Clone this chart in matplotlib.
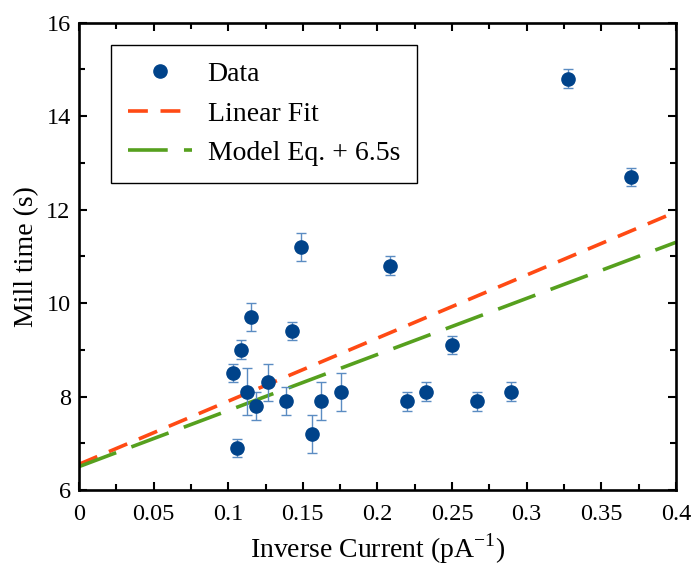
import matplotlib
matplotlib.use("Agg")
import matplotlib.pyplot as plt
import numpy as np
from matplotlib.ticker import MultipleLocator
from matplotlib.lines import Line2D

plt.rcParams['font.family'] = ['Liberation Serif', 'DejaVu Serif']
plt.rcParams['mathtext.fontset'] = 'custom'
plt.rcParams['mathtext.rm'] = 'Liberation Serif'

inv_current = [0.1032, 0.1085, 0.106, 0.1126, 0.115, 0.1186, 0.1266, 0.139, 0.1427,
               0.1487, 0.156, 0.162, 0.1755, 0.2084, 0.2198, 0.2325, 0.25, 0.2667,
               0.2894, 0.3276, 0.3699]
mill_time = [8.5, 9.0, 6.9, 8.1, 9.7, 7.8, 8.3, 7.9, 9.4,
             11.2, 7.2, 7.9, 8.1, 10.8, 7.9, 8.1, 9.1, 7.9,
             8.1, 14.8, 12.7]
mill_err = [0.2, 0.2, 0.2, 0.5, 0.3, 0.3, 0.4, 0.3, 0.2,
            0.3, 0.4, 0.4, 0.4, 0.2, 0.2, 0.2, 0.2, 0.2,
            0.2, 0.2, 0.2]

fit_intercept = 6.55
fit_slope = 13.5
model_intercept = 6.5
model_slope = 12.0

fig = plt.figure(figsize=(6.94, 5.66), dpi=100)
ax = fig.add_axes([0.1138, 0.1343, 0.974 - 0.1138, 0.960 - 0.1343])

xl = np.array([0.0, 0.4])
l_fit, = ax.plot(xl, fit_intercept + fit_slope * xl, color='#ff4a14', lw=2.6,
                 dashes=(5.5, 3.5), label='Linear Fit', zorder=2)
l_mod, = ax.plot(xl, model_intercept + model_slope * xl, color='#56a01e', lw=2.6,
                 dashes=(11, 4.5), label='Model Eq. + 6.5s', zorder=2)
ax.errorbar(inv_current, mill_time, yerr=mill_err, fmt='o', color='#00438a',
            ms=9.5, ecolor='#5b8cc2', elinewidth=1.0, capsize=3.5, capthick=1.0,
            zorder=3)
h_data = Line2D([], [], ls='none', marker='o', color='#00438a', ms=9.5)

ax.set_xlim(0, 0.4)
ax.set_ylim(6, 16)
ax.xaxis.set_minor_locator(MultipleLocator(0.025))
ax.yaxis.set_major_locator(MultipleLocator(2))
ax.yaxis.set_minor_locator(MultipleLocator(1))
ax.set_xticks([0, 0.05, 0.1, 0.15, 0.2, 0.25, 0.3, 0.35, 0.4])
ax.set_xticklabels(['0', '0.05', '0.1', '0.15', '0.2', '0.25', '0.3', '0.35', '0.4'])

ax.tick_params(which='both', direction='in', top=True, right=True, labelsize=17.5,
               width=1.5)
ax.tick_params(which='major', length=6)
ax.tick_params(which='minor', length=4)
ax.tick_params(axis='x', which='both', pad=10)
ax.tick_params(axis='y', which='both', pad=6)
for s in ax.spines.values():
    s.set_linewidth(1.9)

ax.set_xlabel('Inverse Current (pA$^{-1}$)', fontsize=20, labelpad=5)
ax.set_ylabel('Mill time (s)', fontsize=20, labelpad=5)

leg = ax.legend([h_data, l_fit, l_mod], ['Data', 'Linear Fit', 'Model Eq. + 6.5s'],
                loc='upper left', bbox_to_anchor=(0.0536, 0.952), borderaxespad=0,
                fontsize=20, frameon=True, fancybox=False, edgecolor='black',
                framealpha=1, handlelength=2.3, handletextpad=0.58,
                borderpad=0.6, labelspacing=0.5)
leg.get_frame().set_linewidth(1.0)

fig.savefig('out.png', dpi=100)
